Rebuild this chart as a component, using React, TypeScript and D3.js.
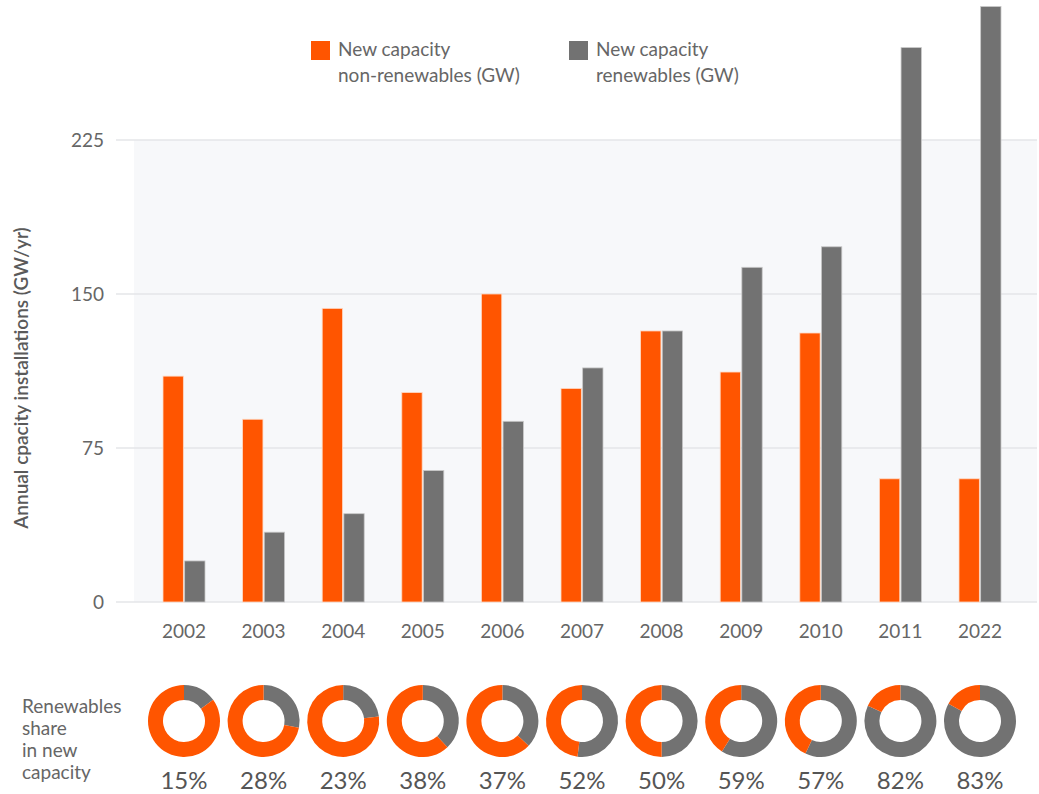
import { useEffect, useRef } from "react";
import * as d3 from "d3";

const years = ["2002", "2003", "2004", "2005", "2006", "2007", "2008", "2009", "2010", "2011", "2022"];
const nonRenewables = [110, 89, 143, 102, 150, 104, 132, 112, 131, 60, 60];
const renewables = [20, 34, 43, 64, 88, 114, 132, 163, 173, 270, 290];
const sharePct = [15, 28, 23, 38, 37, 52, 50, 59, 57, 82, 83];
const yTicks = [0, 75, 150, 225];
const seriesNames = ["New capacity\nnon-renewables (GW)", "New capacity\nrenewables (GW)"];

const ORANGE = "#ff5500";
const GRAY = "#727272";
const TEXT = "#666666";
const FONT = "Lato, 'Open Sans', sans-serif";

export default function App() {
  const ref = useRef<SVGSVGElement>(null);

  useEffect(() => {
    document.body.style.margin = "0";
    if (!ref.current) return;
    const svg = d3.select(ref.current);
    svg.selectAll("*").remove();

    const width = 1039;
    const height = 794;
    const plot = { left: 134, right: 1037, top: 140, bottom: 602 };

    const y = d3.scaleLinear().domain([0, 225]).range([plot.bottom, plot.top]);
    const x = d3.scaleBand().domain(years).range([144.2, 1019.8]).padding(0);
    const x1 = d3.scaleBand().domain(["non", "ren"]).range([0, 42]).paddingInner(0.06);

    svg.attr("width", width).attr("height", height).style("font-family", FONT);

    // plot background
    svg
      .append("rect")
      .attr("x", plot.left)
      .attr("y", plot.top)
      .attr("width", plot.right - plot.left)
      .attr("height", plot.bottom - plot.top)
      .attr("fill", "#f7f8fa");

    // gridlines + y tick labels
    const grid = svg.append("g");
    grid
      .selectAll("line")
      .data(yTicks)
      .enter()
      .append("line")
      .attr("x1", 116)
      .attr("x2", plot.right)
      .attr("y1", (d) => y(d))
      .attr("y2", (d) => y(d))
      .attr("stroke", "#e4e6e9")
      .attr("stroke-width", 1.5);

    grid
      .selectAll("text")
      .data(yTicks)
      .enter()
      .append("text")
      .attr("x", 104)
      .attr("y", (d) => y(d))
      .attr("dy", "0.36em")
      .attr("text-anchor", "end")
      .attr("font-size", 19)
      .attr("fill", TEXT)
      .text((d) => d);

    // bars
    const groups = svg
      .selectAll(".grp")
      .data(years)
      .enter()
      .append("g")
      .attr("class", "grp")
      .attr("transform", (d) => `translate(${(x(d) || 0) + x.bandwidth() / 2 - 21},0)`);

    groups
      .append("rect")
      .attr("x", x1("non") || 0)
      .attr("y", (_, i) => y(nonRenewables[i]))
      .attr("width", x1.bandwidth())
      .attr("height", (_, i) => y(0) - y(nonRenewables[i]))
      .attr("fill", ORANGE)
      .attr("stroke", "#ffd9c4")
      .attr("stroke-width", 0.8);

    groups
      .append("rect")
      .attr("x", x1("ren") || 0)
      .attr("y", (_, i) => y(renewables[i]))
      .attr("width", x1.bandwidth())
      .attr("height", (_, i) => y(0) - y(renewables[i]))
      .attr("fill", GRAY)
      .attr("stroke", "#c8c8c8")
      .attr("stroke-width", 0.8);

    // x labels
    svg
      .selectAll(".xl")
      .data(years)
      .enter()
      .append("text")
      .attr("class", "xl")
      .attr("x", (d) => (x(d) || 0) + x.bandwidth() / 2)
      .attr("y", 638)
      .attr("text-anchor", "middle")
      .attr("font-size", 19)
      .attr("fill", TEXT)
      .text((d) => d);

    // y axis title
    svg
      .append("text")
      .attr("transform", `translate(28,${(plot.top + plot.bottom) / 2 + 7}) rotate(-90)`)
      .attr("text-anchor", "middle")
      .attr("font-size", 19)
      .attr("font-weight", 600)
      .attr("fill", "#5a5a5a")
      .text("Annual cpacity installations (GW/yr)");

    // legend
    const legendX = [311, 569];
    const legendColors = [ORANGE, GRAY];
    seriesNames.forEach((name, i) => {
      const lg = svg.append("g").attr("transform", `translate(${legendX[i]},41)`);
      lg.append("rect").attr("width", 19).attr("height", 19).attr("fill", legendColors[i]);
      const t = lg
        .append("text")
        .attr("x", 27)
        .attr("y", 15)
        .attr("font-size", 19)
        .attr("fill", TEXT);
      name.split("\n").forEach((line, j) => {
        t.append("tspan")
          .attr("x", 27)
          .attr("dy", j === 0 ? 0 : 26)
          .text(line);
      });
    });

    // donuts
    const pie = d3
      .pie<number>()
      .sort(null)
      .value((d) => d);
    const arc = d3.arc<d3.PieArcDatum<number>>().innerRadius(21).outerRadius(36);
    const donutColors = [GRAY, ORANGE];

    const donuts = svg
      .selectAll(".donut")
      .data(years)
      .enter()
      .append("g")
      .attr("class", "donut")
      .attr("transform", (d) => `translate(${(x(d) || 0) + x.bandwidth() / 2},721)`);

    donuts
      .selectAll("path")
      .data((_, i) => pie([sharePct[i], 100 - sharePct[i]]))
      .enter()
      .append("path")
      .attr("d", arc)
      .attr("fill", (_, j) => donutColors[j]);

    svg
      .selectAll(".pct")
      .data(years)
      .enter()
      .append("text")
      .attr("class", "pct")
      .attr("x", (d) => (x(d) || 0) + x.bandwidth() / 2)
      .attr("y", 789)
      .attr("text-anchor", "middle")
      .attr("font-size", 24)
      .attr("fill", "#555555")
      .text((_, i) => `${sharePct[i]}%`);

    // side label
    const side = svg
      .append("text")
      .attr("x", 22)
      .attr("y", 713)
      .attr("font-size", 19)
      .attr("fill", TEXT);
    ["Renewables", "share", "in new", "capacity"].forEach((line, j) => {
      side
        .append("tspan")
        .attr("x", 22)
        .attr("dy", j === 0 ? 0 : 22)
        .text(line);
    });
  }, []);

  return <svg ref={ref} style={{ display: "block" }} />;
}
